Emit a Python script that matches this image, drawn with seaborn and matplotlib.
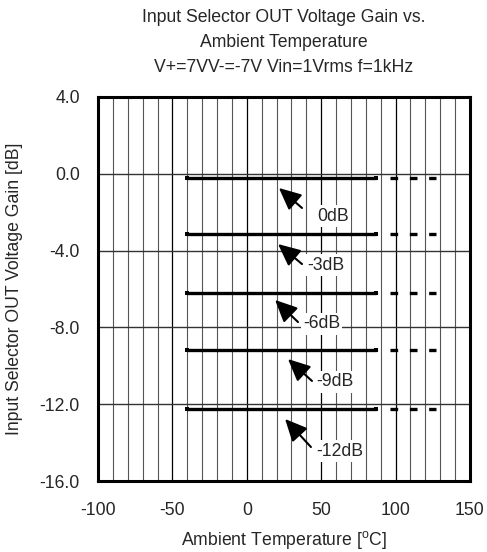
import pandas as pd
import seaborn as sns
import matplotlib
matplotlib.use("Agg")
import matplotlib.pyplot as plt
import matplotlib.ticker as ticker

# gain settings and measured output gain (dB)
gain_labels = ['0dB', '-3dB', '-6dB', '-9dB', '-12dB']
gain_values = [-0.2, -3.15, -6.2, -9.2, -12.25]
# measured range (solid) and extended range (dashed)
temp_meas = [-40, 87]
temp_ext = [96.5, 127]

x_ticks = [-100, -50, 0, 50, 100, 150]
y_ticks = [4.0, 0.0, -4.0, -8.0, -12.0, -16.0]

rows = []
for lab, g in zip(gain_labels, gain_values):
    for t in temp_meas:
        rows.append({'level': lab, 'temp': t, 'gain': g, 'part': 'meas'})
    for t in temp_ext:
        rows.append({'level': lab, 'temp': t, 'gain': g, 'part': 'ext'})
df = pd.DataFrame(rows)

sns.set_style("white")
plt.rcParams['font.family'] = ['Liberation Sans', 'DejaVu Sans']
plt.rcParams['font.size'] = 12.7
plt.rcParams['axes.unicode_minus'] = False
plt.rcParams['mathtext.fontset'] = 'custom'
plt.rcParams['mathtext.rm'] = 'Liberation Sans'

fig = plt.figure(figsize=(4.87, 5.52), dpi=100)
ax = fig.add_axes([98 / 487, 1 - 481 / 552, 372 / 487, 384 / 552])

sns.lineplot(data=df[df.part == 'meas'], x='temp', y='gain', units='level',
             estimator=None, color='black', lw=2.4, ax=ax, zorder=3,
             marker='s', markersize=3.5, markeredgewidth=0)
sns.lineplot(data=df[df.part == 'ext'], x='temp', y='gain', units='level',
             estimator=None, color='black', lw=2.4, ax=ax, zorder=3,
             linestyle=(0, (2.3, 3.5)), dash_capstyle='butt')

# arrows and labels: (tip, tail, text position)
notes = [
    ((21.6, -0.74), (37.1, -1.78), (47.5, -2.2)),
    ((21.0, -3.66), (37.1, -4.70), (40.5, -4.75)),
    ((19.0, -6.57), (34.4, -7.72), (37.8, -7.82)),
    ((27.7, -9.65), (43.8, -10.79), (46.5, -10.84)),
    ((25.7, -12.77), (43.1, -14.23), (46.5, -14.44)),
]
for lab, (tip, tail, txt) in zip(gain_labels, notes):
    ax.annotate('', xy=tip, xytext=tail, zorder=4,
                arrowprops=dict(arrowstyle='-|>,head_length=0.9,head_width=0.42',
                                mutation_scale=15, lw=1.5, color='black',
                                shrinkA=0, shrinkB=0))
    ax.text(txt[0], txt[1], lab, ha='left', va='center', fontsize=12.7, zorder=5,
            bbox=dict(facecolor='white', edgecolor='none', pad=1.5))

ax.set_xlim(-100, 150)
ax.set_ylim(-16, 4)
ax.set_xticks(x_ticks)
ax.set_yticks(y_ticks)
ax.xaxis.set_minor_locator(ticker.MultipleLocator(10))
ax.yaxis.set_major_formatter(ticker.FormatStrFormatter('%.1f'))
ax.grid(which='major', axis='x', color='black', lw=0.9)
ax.grid(which='minor', axis='x', color='#555555', lw=0.8)
ax.grid(which='major', axis='y', color='#333333', lw=1.0)
ax.set_axisbelow(True)
ax.tick_params(which='both', length=0)
ax.tick_params(axis='x', pad=15)
ax.tick_params(axis='y', pad=13)
for sp in ax.spines.values():
    sp.set_visible(True)
    sp.set_color('black')
    sp.set_linewidth(2.2)

ax.set_title('Input Selector OUT Voltage Gain vs.\nAmbient Temperature\n'
             'V+=7VV-=-7V Vin=1Vrms f=1kHz', fontsize=12.7, pad=18, linespacing=1.6)
ax.set_xlabel(r'Ambient Temperature [$^{\rm o}$C]', labelpad=7)
ax.set_ylabel('Input Selector OUT Voltage Gain [dB]', labelpad=12)

fig.savefig('out.png', dpi=100)
